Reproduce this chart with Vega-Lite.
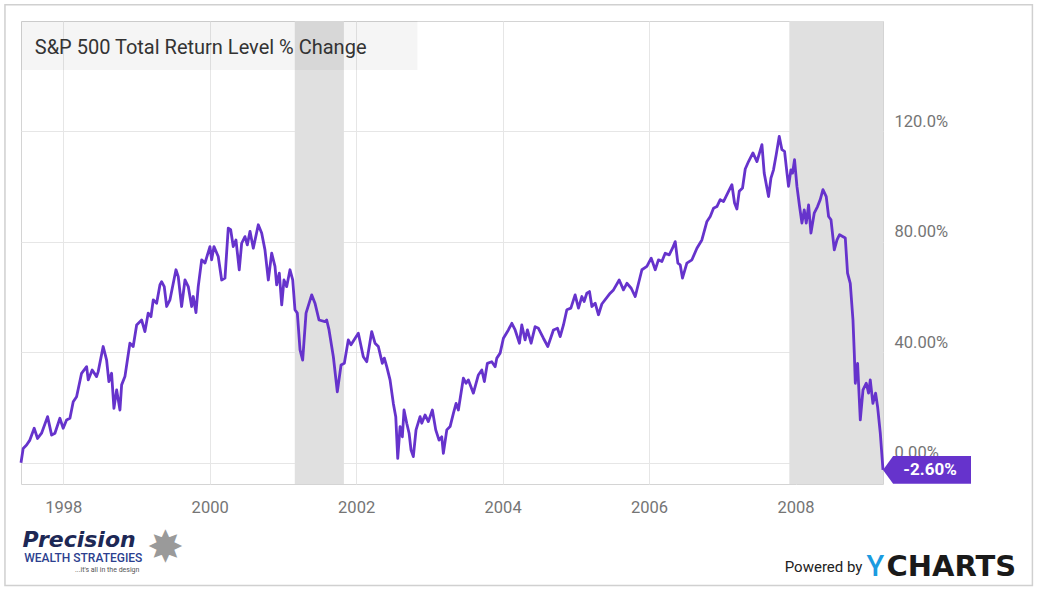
{
  "$schema": "https://vega.github.io/schema/vega-lite/v6.json",
  "width": 862,
  "height": 463,
  "autosize": {"type": "none"},
  "padding": {"left": 21, "top": 21, "right": 155, "bottom": 108},
  "background": "white",
  "config": {
    "view": {"stroke": "#d4d4d4"},
    "font": "Roboto",
    "text": {"font": "Roboto"},
    "axis": {"title": null}
  },
  "datasets": {
    "sp500": [
      {"t": 1997.424, "v": 0}, {"t": 1997.454, "v": 5.2}, {"t": 1997.5, "v": 6.4}, {"t": 1997.545, "v": 8.2},
      {"t": 1997.604, "v": 12.5}, {"t": 1997.65, "v": 8.8}, {"t": 1997.705, "v": 10.7}, {"t": 1997.787, "v": 16.7},
      {"t": 1997.842, "v": 10.0}, {"t": 1997.887, "v": 10.7}, {"t": 1997.955, "v": 16.1}, {"t": 1998.0, "v": 12.5},
      {"t": 1998.046, "v": 15.5}, {"t": 1998.092, "v": 16.1}, {"t": 1998.137, "v": 22.1}, {"t": 1998.183, "v": 23.9},
      {"t": 1998.251, "v": 32.4}, {"t": 1998.32, "v": 34.8}, {"t": 1998.342, "v": 30.0}, {"t": 1998.396, "v": 33.6},
      {"t": 1998.456, "v": 31.2}, {"t": 1998.478, "v": 33.0}, {"t": 1998.546, "v": 42.1}, {"t": 1998.593, "v": 37.2},
      {"t": 1998.624, "v": 29.4}, {"t": 1998.661, "v": 32.4}, {"t": 1998.693, "v": 19.7}, {"t": 1998.73, "v": 26.4},
      {"t": 1998.775, "v": 19.1}, {"t": 1998.798, "v": 28.2}, {"t": 1998.843, "v": 31.2}, {"t": 1998.911, "v": 43.3},
      {"t": 1998.956, "v": 42.1}, {"t": 1999.003, "v": 49.9}, {"t": 1999.071, "v": 51.7}, {"t": 1999.116, "v": 47.5},
      {"t": 1999.161, "v": 54.2}, {"t": 1999.198, "v": 52.9}, {"t": 1999.23, "v": 59.0}, {"t": 1999.276, "v": 57.8},
      {"t": 1999.321, "v": 64.4}, {"t": 1999.344, "v": 65.6}, {"t": 1999.38, "v": 63.8}, {"t": 1999.413, "v": 56.6},
      {"t": 1999.458, "v": 59.0}, {"t": 1999.54, "v": 69.9}, {"t": 1999.571, "v": 67.4}, {"t": 1999.617, "v": 56.6},
      {"t": 1999.663, "v": 66.2}, {"t": 1999.708, "v": 63.8}, {"t": 1999.754, "v": 56.6}, {"t": 1999.776, "v": 60.2},
      {"t": 1999.813, "v": 54.4}, {"t": 1999.844, "v": 63.8}, {"t": 1999.891, "v": 73.5}, {"t": 1999.936, "v": 72.3},
      {"t": 2000.004, "v": 78.3}, {"t": 2000.027, "v": 73.5}, {"t": 2000.059, "v": 78.3}, {"t": 2000.117, "v": 74.7},
      {"t": 2000.164, "v": 66.2}, {"t": 2000.209, "v": 66.9}, {"t": 2000.254, "v": 85.0}, {"t": 2000.287, "v": 84.4},
      {"t": 2000.322, "v": 78.3}, {"t": 2000.359, "v": 80.7}, {"t": 2000.404, "v": 69.9}, {"t": 2000.437, "v": 79.5},
      {"t": 2000.482, "v": 81.9}, {"t": 2000.514, "v": 78.9}, {"t": 2000.551, "v": 83.8}, {"t": 2000.596, "v": 77.7},
      {"t": 2000.664, "v": 86.2}, {"t": 2000.71, "v": 83.2}, {"t": 2000.755, "v": 77.1}, {"t": 2000.801, "v": 66.2},
      {"t": 2000.847, "v": 75.9}, {"t": 2000.892, "v": 71.1}, {"t": 2000.915, "v": 64.4}, {"t": 2000.951, "v": 68.7},
      {"t": 2000.984, "v": 57.2}, {"t": 2001.015, "v": 66.2}, {"t": 2001.052, "v": 63.8}, {"t": 2001.097, "v": 69.9},
      {"t": 2001.134, "v": 66.2}, {"t": 2001.165, "v": 55.4}, {"t": 2001.197, "v": 54.2}, {"t": 2001.234, "v": 40.9},
      {"t": 2001.27, "v": 37.2}, {"t": 2001.316, "v": 54.2}, {"t": 2001.393, "v": 60.8}, {"t": 2001.438, "v": 57.8},
      {"t": 2001.493, "v": 51.7}, {"t": 2001.575, "v": 51.1}, {"t": 2001.598, "v": 51.7}, {"t": 2001.63, "v": 48.1},
      {"t": 2001.689, "v": 38.4}, {"t": 2001.743, "v": 25.7}, {"t": 2001.794, "v": 35.4}, {"t": 2001.839, "v": 36.0},
      {"t": 2001.893, "v": 44.5}, {"t": 2001.93, "v": 42.7}, {"t": 2002.03, "v": 46.9}, {"t": 2002.098, "v": 38.4},
      {"t": 2002.145, "v": 36.6}, {"t": 2002.213, "v": 47.5}, {"t": 2002.258, "v": 43.3}, {"t": 2002.303, "v": 42.1},
      {"t": 2002.358, "v": 36.0}, {"t": 2002.385, "v": 37.9}, {"t": 2002.418, "v": 34.8}, {"t": 2002.463, "v": 30.0},
      {"t": 2002.508, "v": 21.5}, {"t": 2002.541, "v": 16.7}, {"t": 2002.568, "v": 1.6}, {"t": 2002.6, "v": 13.1},
      {"t": 2002.631, "v": 9.4}, {"t": 2002.654, "v": 19.1}, {"t": 2002.691, "v": 14.3}, {"t": 2002.723, "v": 10.7},
      {"t": 2002.75, "v": 4.6}, {"t": 2002.781, "v": 2.2}, {"t": 2002.818, "v": 11.9}, {"t": 2002.873, "v": 16.7},
      {"t": 2002.896, "v": 14.3}, {"t": 2002.941, "v": 17.3}, {"t": 2002.986, "v": 14.9}, {"t": 2003.041, "v": 19.1},
      {"t": 2003.087, "v": 11.9}, {"t": 2003.132, "v": 8.2}, {"t": 2003.169, "v": 9.4}, {"t": 2003.191, "v": 3.4},
      {"t": 2003.238, "v": 11.9}, {"t": 2003.283, "v": 13.1}, {"t": 2003.328, "v": 17.9}, {"t": 2003.365, "v": 21.5},
      {"t": 2003.396, "v": 19.1}, {"t": 2003.464, "v": 30.6}, {"t": 2003.501, "v": 28.8}, {"t": 2003.533, "v": 30.0},
      {"t": 2003.601, "v": 25.2}, {"t": 2003.669, "v": 31.8}, {"t": 2003.716, "v": 33.6}, {"t": 2003.751, "v": 29.4},
      {"t": 2003.792, "v": 36.0}, {"t": 2003.852, "v": 36.6}, {"t": 2003.898, "v": 34.8}, {"t": 2003.921, "v": 37.9},
      {"t": 2003.966, "v": 39.7}, {"t": 2004.011, "v": 45.1}, {"t": 2004.079, "v": 48.1}, {"t": 2004.126, "v": 50.5},
      {"t": 2004.171, "v": 48.1}, {"t": 2004.23, "v": 43.3}, {"t": 2004.262, "v": 49.9}, {"t": 2004.307, "v": 44.5},
      {"t": 2004.339, "v": 48.1}, {"t": 2004.389, "v": 43.3}, {"t": 2004.444, "v": 49.3}, {"t": 2004.489, "v": 48.7},
      {"t": 2004.557, "v": 45.1}, {"t": 2004.617, "v": 42.1}, {"t": 2004.694, "v": 48.1}, {"t": 2004.749, "v": 48.7},
      {"t": 2004.786, "v": 45.7}, {"t": 2004.831, "v": 49.9}, {"t": 2004.877, "v": 55.4}, {"t": 2004.932, "v": 56.0},
      {"t": 2004.99, "v": 60.8}, {"t": 2005.036, "v": 56.0}, {"t": 2005.082, "v": 60.2}, {"t": 2005.113, "v": 58.4},
      {"t": 2005.15, "v": 61.4}, {"t": 2005.186, "v": 62.0}, {"t": 2005.219, "v": 56.6}, {"t": 2005.264, "v": 57.8},
      {"t": 2005.309, "v": 53.6}, {"t": 2005.355, "v": 57.5}, {"t": 2005.469, "v": 61.4}, {"t": 2005.514, "v": 62.6},
      {"t": 2005.592, "v": 66.2}, {"t": 2005.65, "v": 62.6}, {"t": 2005.697, "v": 65.0}, {"t": 2005.756, "v": 63.2},
      {"t": 2005.811, "v": 60.2}, {"t": 2005.902, "v": 69.9}, {"t": 2005.97, "v": 71.1}, {"t": 2006.029, "v": 74.1},
      {"t": 2006.084, "v": 69.9}, {"t": 2006.128, "v": 73.5}, {"t": 2006.175, "v": 72.9}, {"t": 2006.22, "v": 75.9},
      {"t": 2006.275, "v": 75.3}, {"t": 2006.32, "v": 77.7}, {"t": 2006.357, "v": 80.1}, {"t": 2006.393, "v": 72.3},
      {"t": 2006.425, "v": 71.7}, {"t": 2006.456, "v": 66.9}, {"t": 2006.516, "v": 72.3}, {"t": 2006.585, "v": 73.5},
      {"t": 2006.653, "v": 77.7}, {"t": 2006.721, "v": 80.7}, {"t": 2006.79, "v": 87.4}, {"t": 2006.835, "v": 89.2},
      {"t": 2006.88, "v": 92.2}, {"t": 2006.926, "v": 92.8}, {"t": 2006.971, "v": 95.3}, {"t": 2007.016, "v": 94.6},
      {"t": 2007.085, "v": 98.3}, {"t": 2007.131, "v": 100.7}, {"t": 2007.167, "v": 94.1}, {"t": 2007.199, "v": 91.9},
      {"t": 2007.231, "v": 98.3}, {"t": 2007.276, "v": 99.5}, {"t": 2007.313, "v": 106.4}, {"t": 2007.358, "v": 109.1},
      {"t": 2007.418, "v": 112.2}, {"t": 2007.473, "v": 109.1}, {"t": 2007.541, "v": 115.2}, {"t": 2007.572, "v": 104.9},
      {"t": 2007.631, "v": 96.4}, {"t": 2007.664, "v": 103.1}, {"t": 2007.699, "v": 106.1}, {"t": 2007.736, "v": 111.6},
      {"t": 2007.777, "v": 118.2}, {"t": 2007.814, "v": 113.4}, {"t": 2007.85, "v": 112.8}, {"t": 2007.883, "v": 104.9},
      {"t": 2007.904, "v": 100.1}, {"t": 2007.937, "v": 106.1}, {"t": 2007.959, "v": 104.9}, {"t": 2007.986, "v": 109.8},
      {"t": 2008.019, "v": 100.1}, {"t": 2008.055, "v": 92.8}, {"t": 2008.087, "v": 86.8}, {"t": 2008.119, "v": 91.6},
      {"t": 2008.146, "v": 86.8}, {"t": 2008.178, "v": 93.4}, {"t": 2008.21, "v": 83.2}, {"t": 2008.255, "v": 90.4},
      {"t": 2008.3, "v": 92.8}, {"t": 2008.337, "v": 95.3}, {"t": 2008.374, "v": 98.9}, {"t": 2008.419, "v": 96.4},
      {"t": 2008.451, "v": 89.2}, {"t": 2008.484, "v": 88.0}, {"t": 2008.529, "v": 77.1}, {"t": 2008.566, "v": 80.7},
      {"t": 2008.601, "v": 82.6}, {"t": 2008.679, "v": 81.4}, {"t": 2008.71, "v": 68.7}, {"t": 2008.747, "v": 65.0},
      {"t": 2008.784, "v": 51.7}, {"t": 2008.802, "v": 39.7}, {"t": 2008.816, "v": 28.8}, {"t": 2008.847, "v": 36.0},
      {"t": 2008.884, "v": 15.5}, {"t": 2008.921, "v": 26.4}, {"t": 2008.966, "v": 28.8}, {"t": 2008.997, "v": 25.2},
      {"t": 2009.02, "v": 30.0}, {"t": 2009.056, "v": 21.5}, {"t": 2009.093, "v": 25.2}, {"t": 2009.12, "v": 20.3},
      {"t": 2009.157, "v": 10.7}, {"t": 2009.194, "v": -2.6}
    ],
    "recessions": [
      {"start": 2001.162, "end": 2001.833},
      {"start": 2007.915, "end": 2009.496}
    ]
  },
  "layer": [
    {
      "data": {"name": "recessions"},
      "mark": {"type": "rect", "fill": "#e0e0e0", "clip": true},
      "encoding": {
        "x": {
          "field": "start",
          "type": "quantitative",
          "title": null,
          "scale": {"domain": [1997.424, 2009.194], "nice": false, "zero": false},
          "axis": {
            "title": null,
            "values": [1998, 2000, 2002, 2004, 2006, 2008],
            "format": "d",
            "grid": true,
            "gridColor": "#e6e6e6",
            "ticks": false,
            "domain": false,
            "labelFont": "Roboto",
            "labelFontSize": 16.5,
            "labelColor": "#757575",
            "labelPadding": 15
          }
        },
        "x2": {"field": "end"}
      }
    },
    {
      "data": {"values": [{}]},
      "mark": {"type": "rect", "fill": "#000000", "fillOpacity": 0.04},
      "encoding": {
        "x": {"datum": 1997.424, "type": "quantitative", "title": null},
        "x2": {"datum": 2002.837},
        "y": {
          "datum": 142.25,
          "type": "quantitative",
          "title": null,
          "scale": {"domain": [-7.7, 160], "nice": false, "zero": false},
          "axis": {
            "title": null,
            "orient": "right",
            "values": [0, 40, 80, 120],
            "labelExpr": "datum.value >= 100 ? format(datum.value, '.1f') + '%' : format(datum.value, '.2f') + '%'",
            "grid": true,
            "gridColor": "#e6e6e6",
            "ticks": false,
            "domain": false,
            "labelFont": "Roboto",
            "labelFontSize": 16.5,
            "labelColor": "#757575",
            "labelPadding": 11,
            "labelAlign": "left",
            "labelBaseline": "alphabetic",
            "labelOffset": -5
          }
        },
        "y2": {"datum": 160}
      }
    },
    {
      "data": {"values": [{}]},
      "mark": {"type": "text", "text": "S&P 500 Total Return Level % Change", "align": "left", "baseline": "alphabetic", "fontSize": 20, "color": "#333333"},
      "encoding": {
        "x": {"datum": 1997.612, "type": "quantitative", "title": null},
        "y": {"datum": 148.05, "type": "quantitative", "title": null}
      }
    },
    {
      "data": {"name": "sp500"},
      "mark": {"type": "line", "color": "#6633cc", "strokeWidth": 2.8, "strokeJoin": "round"},
      "encoding": {
        "x": {"field": "t", "type": "quantitative", "title": null},
        "y": {"field": "v", "type": "quantitative", "title": null}
      }
    },
    {
      "data": {"name": "sp500"},
      "transform": [{"filter": "datum.t >= 2009.19"}],
      "mark": {"type": "point", "shape": "M0,0L0.23,-0.314L2,-0.314L2,0.314L0.23,0.314Z", "size": 7744, "filled": true, "fill": "#6633cc", "stroke": null, "opacity": 1},
      "encoding": {
        "x": {"field": "t", "type": "quantitative", "title": null},
        "y": {"field": "v", "type": "quantitative", "title": null}
      }
    },
    {
      "data": {"name": "sp500"},
      "transform": [{"filter": "datum.t >= 2009.19"}],
      "mark": {"type": "text", "text": "-2.60%", "align": "center", "baseline": "middle", "dx": 47, "fontSize": 17, "fontWeight": "bold", "color": "white"},
      "encoding": {
        "x": {"field": "t", "type": "quantitative", "title": null},
        "y": {"field": "v", "type": "quantitative", "title": null}
      }
    },
    {
      "data": {"values": [{}]},
      "mark": {"type": "rect", "fillOpacity": 0, "stroke": "#d0d0d0", "strokeWidth": 1.5},
      "encoding": {
        "x": {"datum": 1997.205, "type": "quantitative", "title": null},
        "x2": {"datum": 2011.234},
        "y": {"datum": -44.5, "type": "quantitative", "title": null},
        "y2": {"datum": 165.9}
      }
    },
    {
      "data": {"values": [{}]},
      "mark": {"type": "text", "text": "Precision", "font": "DejaVu Sans", "fontWeight": "bold", "fontStyle": "italic", "fontSize": 22, "color": "#1d2855", "align": "left", "baseline": "alphabetic"},
      "encoding": {
        "x": {"datum": 1997.444, "type": "quantitative", "title": null},
        "y": {"datum": -30.6, "type": "quantitative", "title": null}
      }
    },
    {
      "data": {"values": [{}]},
      "mark": {"type": "text", "text": "WEALTH STRATEGIES", "fontSize": 12, "fontWeight": 500, "color": "#2c3f8f", "align": "left", "baseline": "alphabetic"},
      "encoding": {
        "x": {"datum": 1997.467, "type": "quantitative", "title": null},
        "y": {"datum": -35.8, "type": "quantitative", "title": null}
      }
    },
    {
      "data": {"values": [{}]},
      "mark": {"type": "text", "text": "...it's all in the design", "fontSize": 7, "color": "#555555", "align": "right", "baseline": "alphabetic"},
      "encoding": {
        "x": {"datum": 1999.041, "type": "quantitative", "title": null},
        "y": {"datum": -39.4, "type": "quantitative", "title": null}
      }
    },
    {
      "data": {"values": [{}]},
      "mark": {"type": "text", "text": "✸", "font": "DejaVu Sans", "fontSize": 44, "color": "#9a9a9a", "align": "center", "baseline": "middle"},
      "encoding": {
        "x": {"datum": 1999.396, "type": "quantitative", "title": null},
        "y": {"datum": -31.2, "type": "quantitative", "title": null}
      }
    },
    {
      "data": {"values": [{}]},
      "mark": {"type": "text", "text": "Powered by", "fontSize": 15, "color": "#222222", "align": "right", "baseline": "alphabetic"},
      "encoding": {
        "x": {"datum": 2008.913, "type": "quantitative", "title": null},
        "y": {"datum": -39.6, "type": "quantitative", "title": null}
      }
    },
    {
      "data": {"values": [{}]},
      "mark": {"type": "text", "text": "Y", "fontSize": 29, "fontWeight": 500, "color": "#1b9be0", "align": "left", "baseline": "alphabetic"},
      "encoding": {
        "x": {"datum": 2008.967, "type": "quantitative", "title": null},
        "y": {"datum": -40.9, "type": "quantitative", "title": null}
      }
    },
    {
      "data": {"values": [{}]},
      "mark": {"type": "text", "text": "CHARTS", "font": "DejaVu Sans", "fontWeight": "bold", "fontSize": 29, "color": "#1a1a1a", "align": "left", "baseline": "alphabetic"},
      "encoding": {
        "x": {"datum": 2009.241, "type": "quantitative", "title": null},
        "y": {"datum": -40.9, "type": "quantitative", "title": null}
      }
    }
  ]
}
